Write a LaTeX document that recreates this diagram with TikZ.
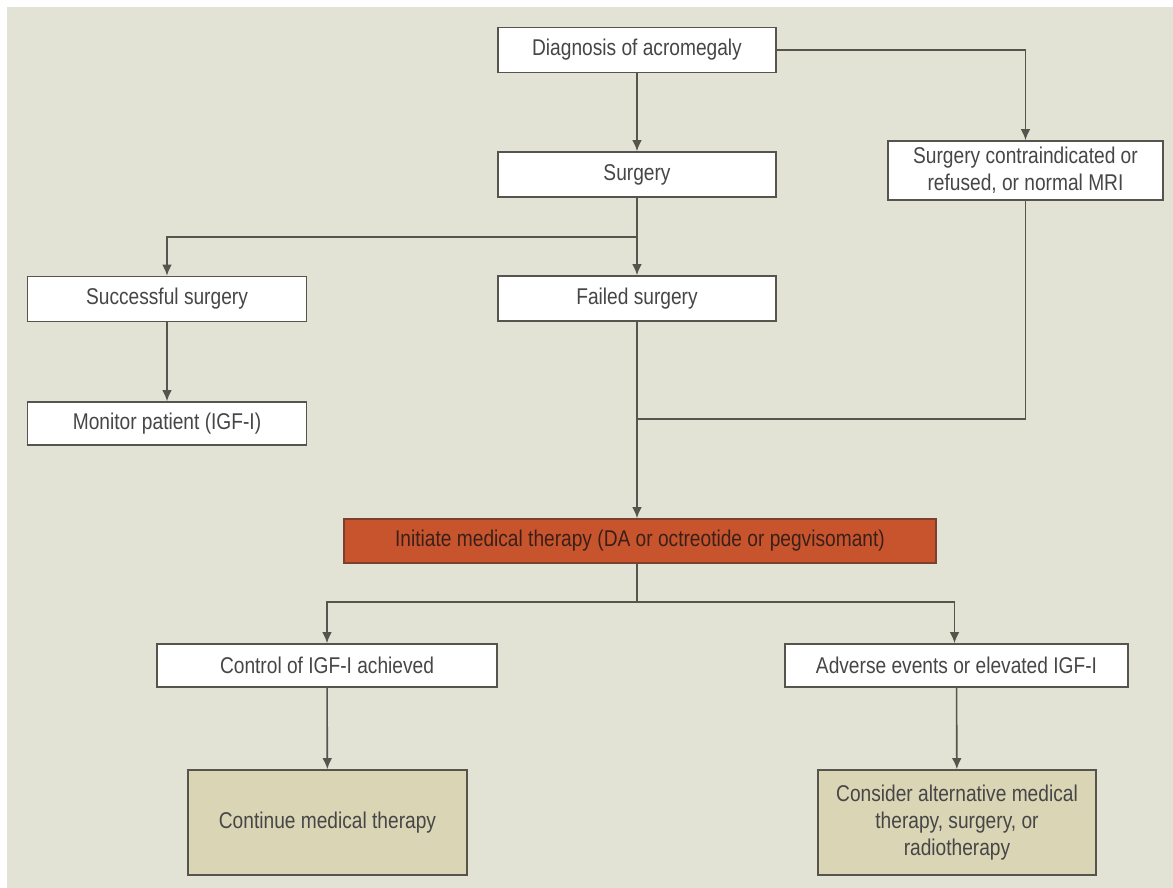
\documentclass[tikz,border=0pt]{standalone}
\usepackage{fontspec}
\setmainfont[FakeStretch=0.84]{Liberation Sans}
\usetikzlibrary{arrows.meta}
\definecolor{bgcol}{HTML}{E2E3D5}
\definecolor{boxline}{HTML}{55554D}
\definecolor{txtcol}{HTML}{464646}
\definecolor{redfill}{HTML}{C8542E}
\definecolor{redline}{HTML}{7A4030}
\definecolor{redtxt}{HTML}{3A2018}
\definecolor{tanfill}{HTML}{DAD5B5}

\begin{document}
\begin{tikzpicture}[x=0.5pt, y=-0.5pt,
    every node/.style={font=\fontsize{11.4}{13.4}\selectfont, text=txtcol},
    whitebox/.style={draw=boxline, line width=0.8pt, fill=white, inner sep=0pt, align=center},
    redbox/.style={whitebox, draw=redline, fill=redfill, text=redtxt},
    tanbox/.style={whitebox, fill=tanfill},
    link/.style={draw=boxline, line width=0.8pt},
    arr/.style={link, -{Latex[length=5.5pt, width=4.8pt]}}]
    \useasboundingbox (0,0) rectangle (1173,888);
    \fill[white] (0,0) rectangle (1173,888);
    \fill[bgcol] (7,7) rectangle (1173,888);
    % boxes
    \node[whitebox, minimum width=139pt, minimum height=22.5pt] (diag) at (637,50) {Diagnosis of acromegaly};
    \node[whitebox, minimum width=139pt, minimum height=22.5pt] (surg) at (637,174.5) {Surgery};
    \node[whitebox, minimum width=137.5pt, minimum height=29.5pt] (contra) at (1025.5,170.5) {Surgery contraindicated or\\refused, or normal MRI};
    \node[whitebox, minimum width=139.5pt, minimum height=22.5pt] (succ) at (167,299) {Successful surgery};
    \node[whitebox, minimum width=139pt, minimum height=22.5pt] (fail) at (637,298.5) {Failed surgery};
    \node[whitebox, minimum width=139.5pt, minimum height=21.5pt] (monit) at (167,423.5) {Monitor patient (IGF-I)};
    \node[redbox, minimum width=296pt, minimum height=22pt] (init) at (640,541) {Initiate medical therapy (DA or octreotide or pegvisomant)};
    \node[whitebox, minimum width=170pt, minimum height=21.5pt] (ctrl) at (327,665.5) {Control of IGF-I achieved};
    \node[whitebox, minimum width=171.5pt, minimum height=21.5pt] (adv) at (956.5,665.5) {Adverse events or elevated IGF-I};
    \node[tanbox, minimum width=139.5pt, minimum height=52.5pt] (cont) at (327.5,822.5) {Continue medical therapy};
    \node[tanbox, minimum width=139pt, minimum height=52.5pt] (alt) at (957,822.5) {Consider alternative medical\\therapy, surgery, or\\radiotherapy};
    % junctions
    \coordinate (j1) at (637,237);
    \coordinate (j2) at (637,419);
    \coordinate (j3) at (637,602);
    % connectors
    \draw[arr] (diag) -- (surg);
    \draw[arr] (diag.east) -| (contra.north);
    \draw[link] (surg) -- (j1);
    \draw[arr] (j1) -- (fail);
    \draw[arr] (j1) -| (succ.north);
    \draw[arr] (succ) -- (monit);
    \draw[link] (fail) -- (j2);
    \draw[link] (contra.south) |- (j2);
    \draw[arr] (j2) -- (j2 |- init.north);
    \draw[link] (j3 |- init.south) -- (j3);
    \draw[arr] (j3) -| (ctrl.north);
    \draw[arr] (j3) -| ([xshift=-1pt]adv.north);
    \draw[arr] (ctrl) -- (cont);
    \draw[arr] (adv) -- (alt);
\end{tikzpicture}
\end{document}
